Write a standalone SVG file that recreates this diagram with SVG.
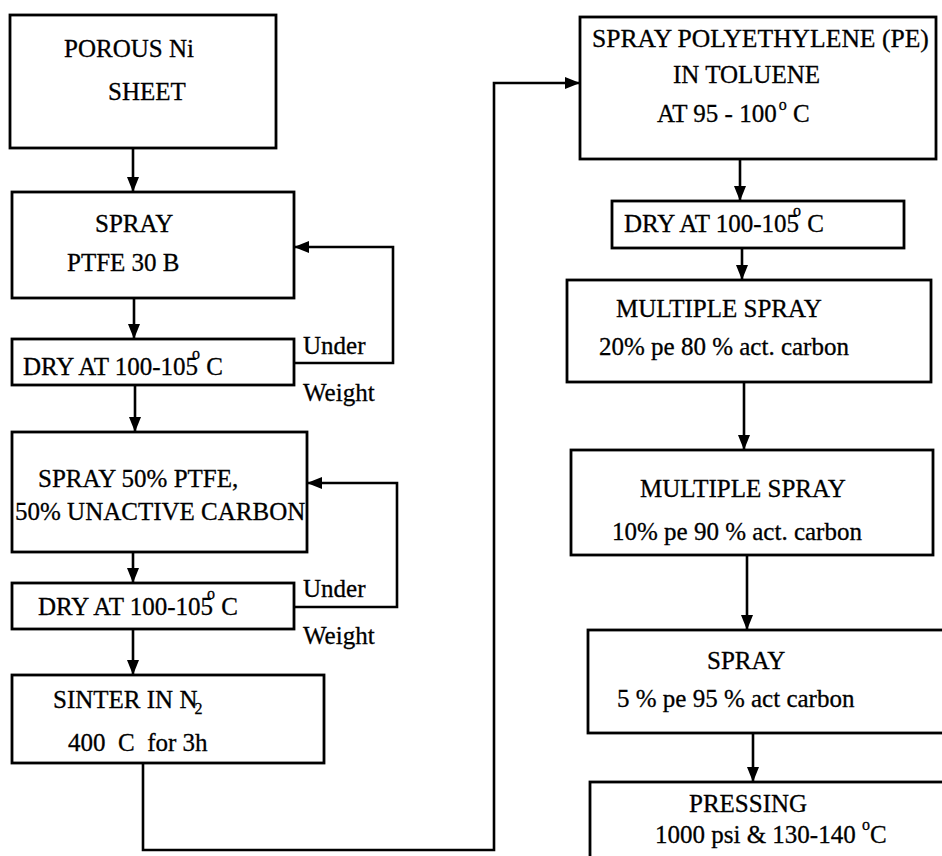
<svg xmlns="http://www.w3.org/2000/svg" width="942" height="856" viewBox="0 0 942 856">
<style>
.t{font-family:"Liberation Serif","Times New Roman",serif;font-size:25px;fill:#000;stroke:#000;stroke-width:0.3;white-space:pre}
.s{font-size:16px}
.b{fill:#fff;stroke:#000;stroke-width:2.8}
.c{fill:none;stroke:#000;stroke-width:2.6}
</style>
<defs>
<marker id="ah" markerWidth="15" markerHeight="12" refX="15" refY="6" orient="auto" markerUnits="userSpaceOnUse">
<path d="M0,0 L15,6 L0,12 z" fill="#000"/>
</marker>
</defs>
<rect width="942" height="856" fill="#fff"/>
<g id="connectors">
<path class="c" d="M133,148 V192" marker-end="url(#ah)"/>
<path class="c" d="M134,298 V339" marker-end="url(#ah)"/>
<path class="c" d="M135,385 V432" marker-end="url(#ah)"/>
<path class="c" d="M133,552 V583" marker-end="url(#ah)"/>
<path class="c" d="M133,629 V675" marker-end="url(#ah)"/>
<path class="c" d="M294,363 H393 V247 H294" marker-end="url(#ah)"/>
<path class="c" d="M294,607 H397 V483 H307" marker-end="url(#ah)"/>
<path class="c" d="M143,763 V850 H494 V83 H580" marker-end="url(#ah)"/>
<path class="c" d="M740,159 V201" marker-end="url(#ah)"/>
<path class="c" d="M742,248 V280" marker-end="url(#ah)"/>
<path class="c" d="M744,382 V450" marker-end="url(#ah)"/>
<path class="c" d="M747,555 V630" marker-end="url(#ah)"/>
<path class="c" d="M753,733 V782" marker-end="url(#ah)"/>
</g>
<g id="labels">
<text class="t" x="303" y="354">Under</text>
<text class="t" x="303" y="401">Weight</text>
<text class="t" x="303" y="597">Under</text>
<text class="t" x="303" y="644">Weight</text>
</g>
<g id="n1">
<rect class="b" x="10" y="15" width="266" height="133"/>
<text class="t" x="64" y="57">POROUS Ni</text>
<text class="t" x="108" y="100">SHEET</text>
</g>
<g id="n2">
<rect class="b" x="12" y="192" width="282" height="106"/>
<text class="t" x="95" y="232">SPRAY</text>
<text class="t" x="67" y="271">PTFE 30 B</text>
</g>
<g id="n3">
<rect class="b" x="12" y="339" width="282" height="46"/>
<text class="t" x="23" y="375">DRY AT 100-105<tspan class="s" dx="-6" dy="-16">o</tspan><tspan dx="0" dy="16"> C</tspan></text>
</g>
<g id="n4">
<rect class="b" x="12" y="432" width="295" height="120"/>
<text class="t" x="38" y="487">SPRAY 50% PTFE,</text>
<text class="t" x="15" y="520">50% UNACTIVE CARBON</text>
</g>
<g id="n5">
<rect class="b" x="12" y="583" width="282" height="46"/>
<text class="t" x="38" y="615">DRY AT 100-105<tspan class="s" dx="-6" dy="-16">o</tspan><tspan dx="0" dy="16"> C</tspan></text>
</g>
<g id="n6">
<rect class="b" x="12" y="675" width="312" height="88"/>
<text class="t" x="53" y="708">SINTER IN N<tspan class="s" dx="-3" dy="6">2</tspan></text>
<text class="t" x="68" y="751">400  C  for 3h</text>
</g>
<g id="n7">
<rect class="b" x="580" y="17" width="356" height="142"/>
<text class="t" x="592" y="47" style="font-size:25.6px">SPRAY POLYETHYLENE (PE)</text>
<text class="t" x="673" y="83">IN TOLUENE</text>
<text class="t" x="657" y="122">AT 95 - 100<tspan class="s" dx="2" dy="-12">o</tspan><tspan dy="12"> C</tspan></text>
</g>
<g id="n8">
<rect class="b" x="612" y="201" width="292" height="47"/>
<text class="t" x="624" y="232">DRY AT 100-105<tspan class="s" dx="-6" dy="-16">o</tspan><tspan dx="0" dy="16"> C</tspan></text>
</g>
<g id="n9">
<rect class="b" x="567" y="280" width="364" height="102"/>
<text class="t" x="616" y="317">MULTIPLE SPRAY</text>
<text class="t" x="599" y="355">20% pe 80 % act. carbon</text>
</g>
<g id="n10">
<rect class="b" x="571" y="450" width="362" height="105"/>
<text class="t" x="640" y="497">MULTIPLE SPRAY</text>
<text class="t" x="612" y="540">10% pe 90 % act. carbon</text>
</g>
<g id="n11">
<rect class="b" x="588" y="630" width="370" height="103"/>
<text class="t" x="707" y="669">SPRAY</text>
<text class="t" x="617" y="707">5 % pe 95 % act carbon</text>
</g>
<g id="n12">
<rect class="b" x="590" y="782" width="370" height="100"/>
<text class="t" x="689" y="812">PRESSING</text>
<text class="t" x="655" y="843">1000 psi &amp; 130-140 <tspan class="s" dy="-13">o</tspan><tspan dy="13">C</tspan></text>
</g>
</svg>
